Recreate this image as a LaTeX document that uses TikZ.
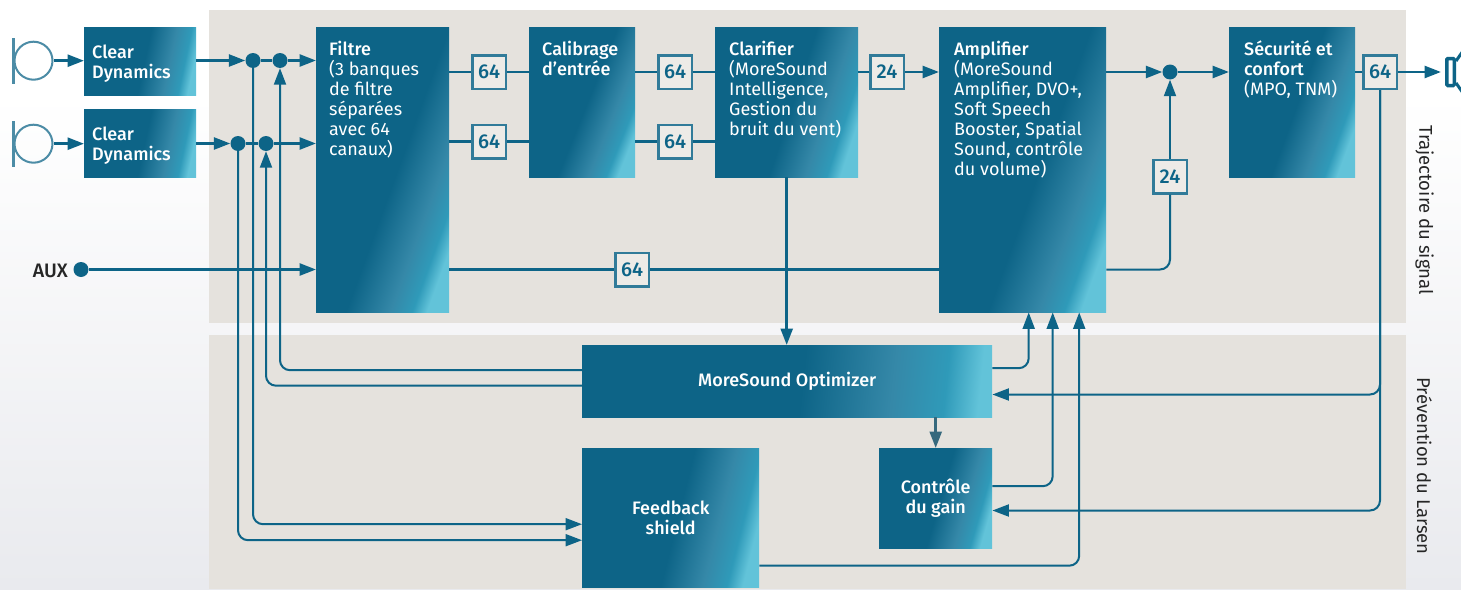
\documentclass[tikz,border=0pt]{standalone}
\usepackage{fontspec}
\setmainfont{Fira Sans}[BoldFont={Fira Sans Medium}]
\usetikzlibrary{arrows.meta,positioning}

\definecolor{sigteal}{HTML}{0D6487}
\definecolor{sigmid}{HTML}{2F9AB9}
\definecolor{siggrey}{HTML}{3588A8}
\definecolor{siglight}{HTML}{62C3D9}
\definecolor{panelgrey}{HTML}{E5E2DD}
\definecolor{micblue}{HTML}{4C8CA6}
\definecolor{pagelow}{HTML}{E9EAEE}

\pgfdeclarehorizontalshading{blockshade}{100bp}{
  color(0bp)=(sigteal); color(52bp)=(sigteal); color(64bp)=(siggrey);
  color(71bp)=(sigmid); color(75.5bp)=(siglight); color(100bp)=(siglight)}
\pgfdeclarehorizontalshading{tallshade}{100bp}{
  color(0bp)=(sigteal); color(54bp)=(sigteal); color(66bp)=(siggrey);
  color(72bp)=(sigmid); color(76bp)=(siglight); color(100bp)=(siglight)}
\pgfdeclareverticalshading{pageshade}{100bp}{
  color(0bp)=(pagelow); color(25bp)=(pagelow); color(50bp)=(pagelow!40!white);
  color(58bp)=(pagelow!20!white); color(67bp)=(white); color(100bp)=(white)}

\tikzset{
  blockbox/.style={rectangle, anchor=north west, inner sep=0pt, shading=blockshade, shading angle=-#1,
    text=white, align=center, font=\fontsize{18}{20}\selectfont\bfseries},
  tallbox/.style={blockbox=20, shading=tallshade},
  blocktext/.style={anchor=north west, inner sep=0pt, text=white, align=left,
    font=\fontsize{18}{20}\selectfont, execute at begin node=\strut},
  numbox/.style={draw=sigteal!85!white, line width=2.5pt, fill=panelgrey!70!white, text=sigteal, minimum size=33.5pt,
    inner sep=0pt, font=\fontsize{20}{20}\selectfont\bfseries},
  dot/.style={circle, fill=sigteal, minimum size=15pt, inner sep=0pt},
  mic/.style={circle, draw=micblue, line width=2pt, minimum size=38pt, inner sep=0pt},
  wire/.style={draw=sigteal, line width=2.7pt, >={Triangle[length=16.5pt,width=12pt]}},
  thinwire/.style={draw=sigteal, line width=2pt, rounded corners=10pt, >={Triangle[length=16.5pt,width=12pt]}},
  sidelabel/.style={rotate=-90, text=black!85, font=\fontsize{18.5}{20}\selectfont}
}

\begin{document}
\begin{tikzpicture}[x=1pt,y=-1pt]
    \useasboundingbox (0,0) rectangle (1461,589);
    \clip (0,0) rectangle (1461,589);

    % Page and the two panels
    \shade[shading=pageshade] (0,0) rectangle (1461,589);
    \fill[panelgrey] (209,10) rectangle (1406,323);
    \fill[panelgrey] (209,335) rectangle (1406,589);

    % Inputs
    \node[mic] (mic1) at (33.5,60.7) {};
    \node[mic] (mic2) at (33.5,143.7) {};
    \draw[micblue, line width=2.7pt] (13.5,38) -- (13.5,84);
    \draw[micblue, line width=2.7pt] (13.5,121) -- (13.5,167);
    \node[anchor=east, inner sep=0pt, text=black!85, font=\fontsize{19.5}{20}\selectfont\bfseries] (auxlabel) at (68,270.5) {AUX};
    \node[dot] (auxdot) at (81,269.5) {};

    % Signal path blocks
    \node[blockbox=12, minimum width=112pt, minimum height=68pt] (clear1) at (84,27) {};
    \node[blockbox=12, minimum width=112pt, minimum height=68pt] (clear2) at (84,109) {};
    \node[tallbox, minimum width=133pt, minimum height=285pt] (filtre) at (316,27) {};
    \node[blockbox=22, minimum width=106pt, minimum height=150pt] (calibrage) at (529,27) {};
    \node[blockbox=18, minimum width=143pt, minimum height=150pt] (clarifier) at (715,27) {};
    \node[tallbox, minimum width=167pt, minimum height=285pt] (amplifier) at (939,27) {};
    \node[blockbox=20, minimum width=126pt, minimum height=150pt] (securite) at (1229,27) {};

    % Texts of the blocks
    \node[blocktext] (clear1txt) at (92,45) {\textbf{Clear}\\\textbf{Dynamics}};
    \node[blocktext] (clear2txt) at (92,127) {\textbf{Clear}\\\textbf{Dynamics}};
    \node[blocktext] (filtretxt) at (329,40.5) {\textbf{Filtre}\\(3 banques\\de filtre\\séparées\\avec 64\\canaux)};
    \node[blocktext] (calibragetxt) at (542,40.5) {\textbf{Calibrage}\\\textbf{d’entrée}};
    \node[blocktext] (clarifiertxt) at (729,40.5) {\textbf{Clarifier}\\(MoreSound\\Intelligence,\\Gestion du\\bruit du vent)};
    \node[blocktext] (amplifiertxt) at (954,40.5) {\textbf{Amplifier}\\(MoreSound\\Amplifier, DVO+,\\Soft Speech\\Booster, Spatial\\Sound, contrôle\\du volume)};
    \node[blocktext] (securitetxt) at (1244,40.5) {\textbf{Sécurité et}\\\textbf{confort}\\(MPO, TNM)};

    % Feedback blocks
    \node[blockbox=6, minimum width=410pt, minimum height=72pt] (optimizer) at (582,345) {MoreSound Optimizer};
    \node[blockbox=14, minimum width=177pt, minimum height=139pt] (feedback) at (582,448) {Feedback\\shield};
    \node[blockbox=16, minimum width=113pt, minimum height=100pt] (gain) at (879,448) {Contrôle\\du gain};

    % Junctions
    \node[dot] (join1a) at (253,60.5) {};
    \node[dot] (join1b) at (280,60.5) {};
    \node[dot] (join2a) at (238,143.5) {};
    \node[dot] (join2b) at (266,143.5) {};
    \node[dot] (joinout) at (1170,72) {};

    % Channel counts
    \node[numbox] (filt64a) at (489,72) {64};
    \node[numbox] (filt64b) at (489,141.7) {64};
    \node[numbox] (cal64a) at (675,72) {64};
    \node[numbox] (cal64b) at (675,141.7) {64};
    \node[numbox] (clar24) at (887,72) {24};
    \node[numbox] (aux64) at (632,269.5) {64};
    \node[numbox] (amp24) at (1170,176.5) {24};
    \node[numbox] (sec64) at (1380,72) {64};

    % Loudspeaker
    \node[draw=sigteal, line width=3.5pt, rounded corners=1pt, minimum width=7.5pt, minimum height=27pt, inner sep=0pt] (speaker) at (1450.5,72) {};
    \draw[sigteal, line width=3pt] (1456,61) -- (1463,51);
    \draw[sigteal, line width=3pt] (1456,83) -- (1463,93);

    % Inputs to the filter
    \draw[wire,->] (mic1.east) -- (clear1.west |- mic1);
    \draw[wire,->] (mic2.east) -- (clear2.west |- mic2);
    \draw[wire,->] (clear1.east |- join1a) -- (join1a);
    \draw[wire] (join1a) -- (join1b);
    \draw[wire,->] (join1b) -- (filtre.west |- join1b);
    \draw[wire,->] (clear2.east |- join2a) -- (join2a);
    \draw[wire] (join2a) -- (join2b);
    \draw[wire,->] (join2b) -- (filtre.west |- join2b);
    \draw[wire,->] (auxdot) -- (filtre.west |- auxdot);

    % Signal path
    \draw[wire] (filtre.east |- filt64a) -- (filt64a);
    \draw[wire] (filt64a) -- (calibrage.west |- filt64a);
    \draw[wire] (filtre.east |- filt64b) -- (filt64b);
    \draw[wire] (filt64b) -- (calibrage.west |- filt64b);
    \draw[wire] (calibrage.east |- cal64a) -- (cal64a);
    \draw[wire] (cal64a) -- (clarifier.west |- cal64a);
    \draw[wire] (calibrage.east |- cal64b) -- (cal64b);
    \draw[wire] (cal64b) -- (clarifier.west |- cal64b);
    \draw[wire] (clarifier.east |- clar24) -- (clar24);
    \draw[wire,->] (clar24) -- (amplifier.west |- clar24);
    \draw[wire] (filtre.east |- aux64) -- (aux64);
    \draw[wire] (aux64) -- (amplifier.west |- aux64);
    \draw[wire,->] (amplifier.east |- joinout) -- (joinout);
    \draw[wire,->] (joinout) -- (securite.west |- joinout);
    \draw[thinwire] (amplifier.east |- aux64) -| (amp24.south);
    \draw[thinwire,->] (amp24.north) -- (joinout.south);
    \draw[wire] (securite.east |- sec64) -- (sec64);
    \draw[wire,->,shorten >=4pt] (sec64) -- (speaker.west);

    % Feedback paths
    \draw[wire,->] (clarifier.south) -- (optimizer.north -| clarifier.south);
    \draw[wire,->,draw=sigteal!75!black!80!panelgrey] (optimizer.south -| gain.north) -- (gain.north);
    \draw[thinwire,->] ([yshift=11pt]optimizer.west) -| (join1b.south);
    \draw[thinwire,->] ([yshift=-4.5pt]optimizer.west) -| (join2b.south);
    \draw[thinwire,->] (join1a.south) |- ([yshift=-6.5pt]feedback.west);
    \draw[thinwire,->] (join2a.south) |- ([yshift=-22.5pt]feedback.west);
    \draw[thinwire,->] ([yshift=13pt]optimizer.east) -| ([xshift=6pt]amplifier.south);
    \draw[thinwire,->] ([yshift=12pt]gain.east) -| ([xshift=30pt]amplifier.south);
    \draw[thinwire,->] ([yshift=-48pt]feedback.east) -| ([xshift=56.5pt]amplifier.south);
    \draw[thinwire,->] (sec64.south) |- ([yshift=-13.3pt]optimizer.east);
    \draw[thinwire,->] (sec64.south) |- ([yshift=-12.3pt]gain.east);

    % Side labels
    \node[sidelabel] (signallabel) at (1424.5,210) {Trajectoire du signal};
    \node[sidelabel] (larsenlabel) at (1424.5,466) {Prévention du Larsen};
\end{tikzpicture}
\end{document}
